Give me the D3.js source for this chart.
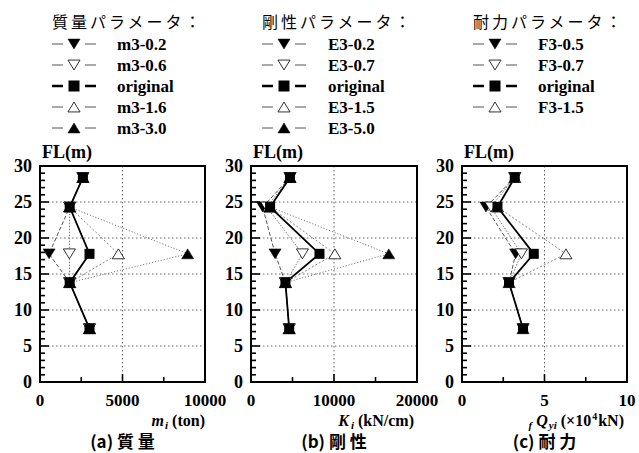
<!DOCTYPE html>
<html>
<head>
<meta charset="utf-8">
<script src="https://cdn.jsdelivr.net/npm/d3@7"></script>
<style>
  body { margin: 0; background: #fff; }
  svg { display: block; }
  text { font-family: "Liberation Serif", "DejaVu Serif", serif; fill: #000; }
  .jp { font-family: "Noto Sans CJK JP", sans-serif; }
</style>
</head>
<body>
<svg id="viz-container" width="639" height="453"></svg>
<script>
// floor heights (m), top floor first
var floors = [28.4, 24.3, 17.8, 13.8, 7.4];

// (a) mass m_i (ton)
var mOriginal = [2600, 1800, 3000, 1800, 3000];
var m02 = [2600, 1800, 550, 1800, 3000];
var m06 = [2600, 1800, 1780, 1800, 3000];
var m16 = [2600, 1800, 4750, 1800, 3000];
var m30 = [2600, 1800, 8950, 1800, 3000];

// (b) stiffness K_i (kN/cm)
var kOriginal = [4700, 2300, 8250, 4150, 4600];
var k02 = [4700, 1400, 2900, 4150, 4600];
var k07 = [4700, 1900, 6200, 4150, 4600];
var k15 = [4700, 2300, 10100, 4150, 4600];
var k50 = [4700, 2300, 16600, 4150, 4600];

// (c) strength fQyi (x10^4 kN)
var qOriginal = [3.2, 2.15, 4.35, 2.85, 3.7];
var q05 = [3.2, 1.45, 3.25, 2.85, 3.7];
var q07 = [3.2, 1.75, 3.6, 2.85, 3.7];
var q15 = [3.2, 2.15, 6.3, 2.85, 3.7];

var yTicks = [0, 5, 10, 15, 20, 25, 30];
var massTicks = [0, 5000, 10000];
var stiffTicks = [0, 10000, 20000];
var strTicks = [0, 5, 10];

var legendTitles = ["質量パラメータ：", "剛性パラメータ：", "耐力パラメータ："];
var massLabels = ["m3-0.2", "m3-0.6", "original", "m3-1.6", "m3-3.0"];
var stiffLabels = ["E3-0.2", "E3-0.7", "original", "E3-1.5", "E3-5.0"];
var strLabels = ["F3-0.5", "F3-0.7", "original", "F3-1.5"];
var captions = ["(a)  質 量", "(b)  剛 性", "(c)  耐 力"];

// line/marker styles per series kind
var styles = {
  dnFill:  { marker: "tri-down", fill: "#000", stroke: "#555", dash: "4,2", width: 1 },
  dnOpen:  { marker: "tri-down", fill: "#fff", stroke: "#777", dash: "1.5,1.5", width: 1 },
  orig:    { marker: "square",   fill: "#000", stroke: "#000", dash: null, width: 1.8 },
  upOpen:  { marker: "tri-up",   fill: "#fff", stroke: "#888", dash: "2,2", width: 1 },
  upFill:  { marker: "tri-up",   fill: "#000", stroke: "#666", dash: "1,2", width: 1 }
};

var svg = d3.select("#viz-container");

var top_y = 166, bottom_y = 382;
var y = d3.scaleLinear().domain([0, 30]).range([bottom_y, top_y]);

var panels = [
  { left: 40, right: 205, max: 10000, ticks: massTicks, legendX: 52, labelX: 117,
    series: [[m02, "dnFill"], [m06, "dnOpen"], [m16, "upOpen"], [m30, "upFill"], [mOriginal, "orig"]],
    labels: massLabels, kinds: ["dnFill", "dnOpen", "orig", "upOpen", "upFill"] },
  { left: 251, right: 417, max: 20000, ticks: stiffTicks, legendX: 262, labelX: 328,
    series: [[k02, "dnFill"], [k07, "dnOpen"], [k15, "upOpen"], [k50, "upFill"], [kOriginal, "orig"]],
    labels: stiffLabels, kinds: ["dnFill", "dnOpen", "orig", "upOpen", "upFill"] },
  { left: 462, right: 627, max: 10, ticks: strTicks, legendX: 473, labelX: 538,
    series: [[q05, "dnFill"], [q07, "dnOpen"], [q15, "upOpen"], [qOriginal, "orig"]],
    labels: strLabels, kinds: ["dnFill", "dnOpen", "orig", "upOpen"] }
];

function drawMarker(g, kind, cx, cy, s) {
  var st = styles[kind];
  if (st.marker == "square") {
    g.append("rect").attr("x", cx - s / 2).attr("y", cy - s / 2)
      .attr("width", s).attr("height", s).attr("fill", "#000");
  } else {
    var h = s * 0.9, w = s * 0.55;
    var pts = st.marker == "tri-down"
      ? [[cx - w, cy - h / 2], [cx + w, cy - h / 2], [cx, cy + h / 2]]
      : [[cx - w, cy + h / 2], [cx + w, cy + h / 2], [cx, cy - h / 2]];
    g.append("polygon").attr("points", pts.map(function(p) { return p.join(","); }).join(" "))
      .attr("fill", st.fill).attr("stroke", "#000").attr("stroke-width", st.fill == "#fff" ? 0.8 : 0.5);
  }
}

panels.forEach(function(p, pi) {
  var x = d3.scaleLinear().domain([0, p.max]).range([p.left, p.right]);
  var g = svg.append("g");

  // grid
  [5, 10, 15, 20, 25].forEach(function(v) {
    g.append("line").attr("x1", p.left).attr("x2", p.right)
      .attr("y1", y(v)).attr("y2", y(v))
      .attr("stroke", "#666").attr("stroke-width", 1).attr("stroke-dasharray", "1.5,2.5");
  });
  g.append("line").attr("x1", x(p.max / 2)).attr("x2", x(p.max / 2))
    .attr("y1", top_y).attr("y2", bottom_y)
    .attr("stroke", "#666").attr("stroke-width", 1).attr("stroke-dasharray", "1.5,2.5");

  // y ticks inside (minor every 1, major every 5)
  d3.range(0, 31).forEach(function(v) {
    var len = v % 5 == 0 ? 9 : 5;
    g.append("line").attr("x1", p.left).attr("x2", p.left + len)
      .attr("y1", y(v)).attr("y2", y(v)).attr("stroke", "#000").attr("stroke-width", 1.6);
  });
  // x ticks inside
  [0.25, 0.5, 0.75].forEach(function(f) {
    var len = f == 0.5 ? 8 : 5;
    g.append("line").attr("x1", x(p.max * f)).attr("x2", x(p.max * f))
      .attr("y1", bottom_y).attr("y2", bottom_y - len).attr("stroke", "#000").attr("stroke-width", 1.6);
  });

  // frame
  g.append("rect").attr("x", p.left).attr("y", top_y)
    .attr("width", p.right - p.left).attr("height", bottom_y - top_y)
    .attr("fill", "none").attr("stroke", "#000").attr("stroke-width", 2);

  // y tick labels
  g.selectAll(".ylab").data(yTicks).enter().append("text")
    .attr("x", p.left - 8).attr("y", function(d) { return y(d) + 6; })
    .attr("text-anchor", "end").style("font-size", "18px").style("font-weight", "bold")
    .text(function(d) { return d; });

  g.append("text").attr("x", p.left + 2).attr("y", 158)
    .style("font-size", "18px").style("font-weight", "bold").text("FL(m)");

  // x tick labels
  g.selectAll(".xlab").data(p.ticks).enter().append("text")
    .attr("x", function(d) { return x(d); }).attr("y", 406)
    .attr("text-anchor", "middle").style("font-size", "17px").style("font-weight", "bold")
    .text(function(d) { return d; });

  // series
  var line = d3.line().x(function(d) { return x(d[0]); }).y(function(d) { return y(d[1]); });
  p.series.forEach(function(s) {
    var st = styles[s[1]];
    var pts = s[0].map(function(v, i) { return [v, floors[i]]; });
    g.append("path").attr("d", line(pts)).attr("fill", "none")
      .attr("stroke", st.stroke).attr("stroke-width", st.width)
      .attr("stroke-dasharray", st.dash);
  });
  p.series.forEach(function(s) {
    s[0].forEach(function(v, i) {
      drawMarker(g, s[1], x(v), y(floors[i]), s[1] == "orig" ? 10 : 11);
    });
  });

  // legend
  g.append("text").attr("class", "jp").attr("x", p.legendX).attr("y", 28)
    .style("font-size", "16px").style("letter-spacing", "3px")
    .text(legendTitles[pi]);
  p.labels.forEach(function(lab, i) {
    var ly = 44 + i * 21;
    var sw = p.kinds[i] == "orig" ? 2.5 : 1;
    var col = p.kinds[i] == "orig" ? "#000" : "#555";
    g.append("line").attr("x1", p.legendX).attr("x2", p.legendX + 11)
      .attr("y1", ly).attr("y2", ly).attr("stroke", col).attr("stroke-width", sw);
    g.append("line").attr("x1", p.legendX + 33).attr("x2", p.legendX + 44)
      .attr("y1", ly).attr("y2", ly).attr("stroke", col).attr("stroke-width", sw);
    drawMarker(g, p.kinds[i], p.legendX + 22, ly, 11);
    g.append("text").attr("x", p.labelX).attr("y", ly + 6)
      .style("font-size", "17px").style("font-weight", "bold").text(lab);
  });

  // caption
  g.append("text").attr("class", "jp").attr("x", (p.left + p.right) / 2).attr("y", 448)
    .attr("text-anchor", "middle").style("font-size", "17px").style("font-weight", "bold")
    .text(captions[pi]);
});

// axis titles
var t1 = svg.append("text").attr("x", 205).attr("y", 426).attr("text-anchor", "end")
  .style("font-size", "16px").style("font-weight", "bold");
t1.append("tspan").style("font-style", "italic").text("m");
t1.append("tspan").style("font-style", "italic").style("font-size", "11px").attr("dx", 1).attr("dy", 3).text("i");
t1.append("tspan").attr("dy", -3).text(" (ton)");

var t2 = svg.append("text").attr("x", 414).attr("y", 426).attr("text-anchor", "end")
  .style("font-size", "16px").style("font-weight", "bold");
t2.append("tspan").style("font-style", "italic").text("K");
t2.append("tspan").style("font-style", "italic").style("font-size", "11px").attr("dx", 2).attr("dy", 3).text("i");
t2.append("tspan").attr("dy", -3).text(" (kN/cm)");

var t3 = svg.append("text").attr("x", 624).attr("y", 426).attr("text-anchor", "end")
  .style("font-size", "16px").style("font-weight", "bold");
t3.append("tspan").style("font-style", "italic").style("font-size", "11px").attr("dy", 3).text("f");
t3.append("tspan").style("font-style", "italic").attr("dx", 4).attr("dy", -3).text("Q");
t3.append("tspan").style("font-style", "italic").style("font-size", "11px").attr("dx", 1).attr("dy", 3).text("yi");
t3.append("tspan").attr("dy", -3).text(" (×10");
t3.append("tspan").style("font-size", "10px").attr("dx", 1).attr("dy", -6).text("4");
t3.append("tspan").attr("dx", 1).attr("dy", 6).text("kN)");
</script>
</body>
</html>
